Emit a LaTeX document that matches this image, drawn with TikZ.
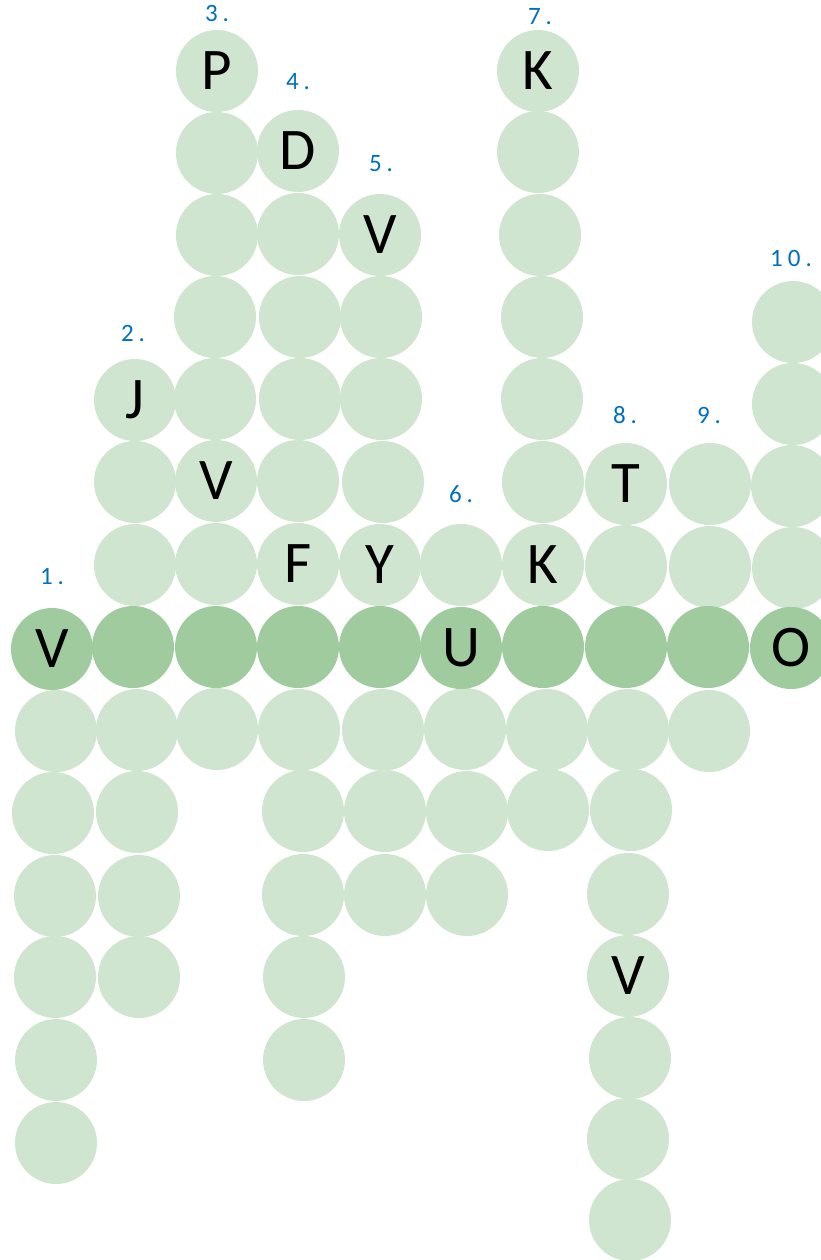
\documentclass[tikz,border=0pt]{standalone}
\usepackage{fontspec}
\setmainfont{Carlito}
\definecolor{lightg}{HTML}{D0E5CF}
\definecolor{darkg}{HTML}{A0CB9F}
\definecolor{numblue}{HTML}{0070C0}
\tikzset{
  cell/.style={circle, fill=lightg, minimum size=82bp, inner sep=0pt, text=black,
    font=\fontsize{59bp}{59bp}\selectfont},
  dcell/.style={cell, fill=darkg},
  num/.style={inner sep=0pt, text=numblue, font=\fontsize{25bp}{25bp}\selectfont}
}
\newcommand{\gp}{\kern5bp}
\begin{document}
\begin{tikzpicture}[x=1bp,y=-1bp]
\useasboundingbox (0,0) rectangle (821,1260);
\clip (0,0) rectangle (821,1260);
% column 1
\node[cell] (a2) at (56,731) {};
\node[cell] (a3) at (53,813) {};
\node[cell] (a4) at (55,896) {};
\node[cell] (a5) at (55,977) {};
\node[cell] (a6) at (56,1060) {};
\node[cell] (a7) at (56,1143) {};
% column 2
\node[cell] (b1) at (135,400) {J};
\node[cell] (b2) at (135,482) {};
\node[cell] (b3) at (135,565) {};
\node[cell] (b5) at (137,730) {};
\node[cell] (b6) at (137,812) {};
\node[cell] (b7) at (139,896) {};
\node[cell] (b8) at (139,977) {};
% column 3
\node[cell] (c1) at (217,71) {P};
\node[cell] (c2) at (217,153) {};
\node[cell] (c3) at (217,235) {};
\node[cell] (c4) at (215,317) {};
\node[cell] (c5) at (215,399) {};
\node[cell] (c6) at (216,481) {V};
\node[cell] (c7) at (216,564) {};
\node[cell] (c9) at (217,729) {};
% column 4
\node[cell] (d1) at (298,151) {D};
\node[cell] (d2) at (298,234) {};
\node[cell] (d3) at (300,317) {};
\node[cell] (d4) at (300,399) {};
\node[cell] (d5) at (298,481) {};
\node[cell] (d6) at (298,564) {F};
\node[cell] (d8) at (299,730) {};
\node[cell] (d9) at (303,811) {};
\node[cell] (d10) at (303,895) {};
\node[cell] (d11) at (304,977) {};
\node[cell] (d12) at (304,1060) {};
% column 5
\node[cell] (e1) at (380,235) {V};
\node[cell] (e2) at (381,317) {};
\node[cell] (e3) at (381,399) {};
\node[cell] (e4) at (383,482) {};
\node[cell] (e5) at (380,565) {Y};
\node[cell] (e7) at (383,730) {};
\node[cell] (e8) at (385,811) {};
\node[cell] (e9) at (385,895) {};
% column 6
\node[cell] (f1) at (461,565) {};
\node[cell] (f3) at (465,729) {};
\node[cell] (f4) at (467,812) {};
\node[cell] (f5) at (467,895) {};
% column 7
\node[cell] (g1) at (538,71) {K};
\node[cell] (g2) at (538,152) {};
\node[cell] (g3) at (540,235) {};
\node[cell] (g4) at (542,317) {};
\node[cell] (g5) at (542,399) {};
\node[cell] (g6) at (543,482) {};
\node[cell] (g7) at (543,565) {K};
\node[cell] (g9) at (547,730) {};
\node[cell] (g10) at (548,810) {};
% column 8
\node[cell] (h1) at (626,484) {T};
\node[cell] (h2) at (626,566) {};
\node[cell] (h4) at (628,730) {};
\node[cell] (h5) at (631,810) {};
\node[cell] (h6) at (628,894) {};
\node[cell] (h7) at (628,976) {V};
\node[cell] (h8) at (630,1058) {};
\node[cell] (h9) at (628,1139) {};
\node[cell] (h10) at (630,1220) {};
% column 9
\node[cell] (i1) at (710,484) {};
\node[cell] (i2) at (710,567) {};
\node[cell] (i4) at (709,731) {};
% column 10
\node[cell] (j1) at (793,322) {};
\node[cell] (j2) at (793,404) {};
\node[cell] (j3) at (792,486) {};
\node[cell] (j4) at (793,568) {};
% main row
\node[dcell] (m1) at (52,649) {V};
\node[dcell] (m2) at (133,647) {};
\node[dcell] (m3) at (216,647) {};
\node[dcell] (m4) at (298,647) {};
\node[dcell] (m5) at (380,647) {};
\node[dcell] (m6) at (461,648) {U};
\node[dcell] (m7) at (543,647) {};
\node[dcell] (m8) at (626,647) {};
\node[dcell] (m9) at (708,647) {};
\node[dcell] (m10) at (791,648) {O};
% numbers
\node[num] (n1) at (52,577) {1\gp.};
\node[num] (n2) at (133,333) {2\gp.};
\node[num] (n3) at (217,13) {3\gp.};
\node[num] (n4) at (298,82) {4\gp.};
\node[num] (n5) at (381,164) {5\gp.};
\node[num] (n6) at (461,494) {6\gp.};
\node[num] (n7) at (540,17) {7\gp.};
\node[num] (n8) at (625,415) {8\gp.};
\node[num] (n9) at (709,415) {9\gp.};
\node[num] (n10) at (791,258) {1\gp0\gp.};
\end{tikzpicture}
\end{document}
